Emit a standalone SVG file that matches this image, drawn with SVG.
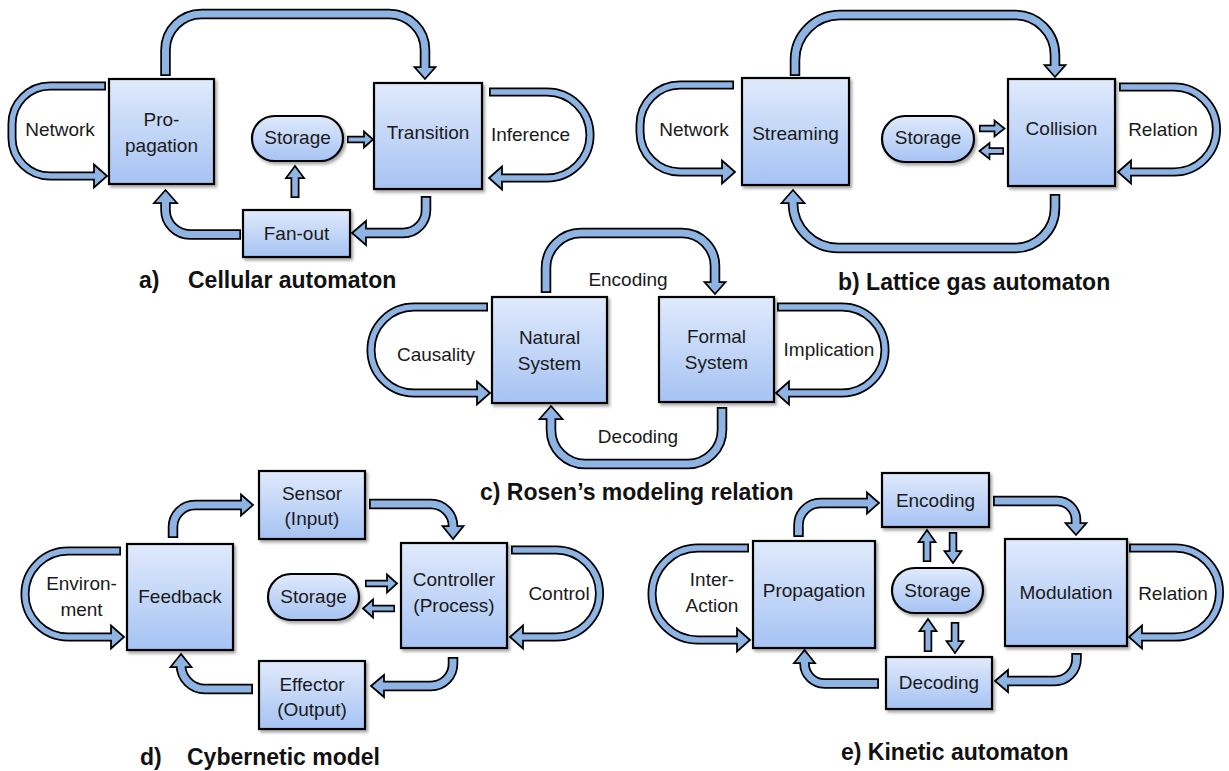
<svg xmlns="http://www.w3.org/2000/svg" width="1229" height="771" viewBox="0 0 1229 771">
<defs>
<linearGradient id="g" x1="0" y1="0" x2="0" y2="1">
<stop offset="0" stop-color="#e0eafc"/>
<stop offset="1" stop-color="#a6c3f3"/>
</linearGradient>
<filter id="sh" x="-10%" y="-10%" width="130%" height="130%">
<feDropShadow dx="2" dy="2.5" stdDeviation="1.5" flood-color="#000" flood-opacity="0.35"/>
</filter>
<style>
.bx{fill:url(#g);stroke:#000;stroke-width:2.2;filter:url(#sh)}
.t{font-family:"Liberation Sans",Arial,sans-serif;font-size:19px;fill:#1a1a1a;text-anchor:middle}
.cap{font-family:"Liberation Sans",Arial,sans-serif;font-size:23px;font-weight:bold;fill:#111}
.o1{fill:none;stroke:#000;stroke-width:10.5}
.i1{fill:none;stroke:#8db4e2;stroke-width:7}
.o2{fill:none;stroke:#000;stroke-width:9}
.i2{fill:none;stroke:#8db4e2;stroke-width:5.5}
.o3{fill:none;stroke:#000;stroke-width:7.5}
.i3{fill:none;stroke:#8db4e2;stroke-width:4}
.o4{fill:none;stroke:#000;stroke-width:8.5}
.i4{fill:none;stroke:#8db4e2;stroke-width:5}
.hd{fill:#8db4e2;stroke:#000;stroke-width:1.75;stroke-linejoin:miter}
</style>
</defs>
<rect width="1229" height="771" fill="#fff"/>

<g id="connectors">
<!-- panel a -->
<path class="o2" d="M 106 86 H 50 A 38 38 0 0 0 12 124 V 138 A 38 38 0 0 0 50 176 H 97"/>
<polygon class="hd" points="107,176 94,164.5 94,187.5"/>
<path class="i2" d="M 104.3 86 H 50 A 38 38 0 0 0 12 124 V 138 A 38 38 0 0 0 50 176 H 97"/>

<path class="o2" d="M 489 92 H 547 A 43 43 0 0 1 547 178 H 499"/>
<polygon class="hd" points="489,178 502,166.5 502,189.5"/>
<path class="i2" d="M 490.8 92 H 547 A 43 43 0 0 1 547 178 H 499"/>

<path class="o1" d="M 165.5 76 V 50 A 36 36 0 0 1 201.5 14 H 389 A 36 36 0 0 1 425 50 V 70"/>
<polygon class="hd" points="425,79 414.5,67 435.5,67"/>
<path class="i1" d="M 165.5 74.2 V 50 A 36 36 0 0 1 201.5 14 H 389 A 36 36 0 0 1 425 50 V 70"/>

<path class="o3" d="M 347 139.5 H 366"/>
<polygon class="hd" points="373,139.5 364,131.5 364,147.5"/>
<path class="i3" d="M 348.6 139.5 H 366"/>

<path class="o2" d="M 295 198 V 175"/>
<polygon class="hd" points="295,166 286,178 304,178"/>
<path class="i2" d="M 295 196.3 V 175"/>

<path class="o1" d="M 426 196 V 210 A 23 23 0 0 1 403 233 H 364"/>
<polygon class="hd" points="352,233 366,221 366,245"/>
<path class="i1" d="M 426 197.8 V 210 A 23 23 0 0 1 403 233 H 364"/>

<path class="o1" d="M 241 234.5 H 190 A 24.5 24.5 0 0 1 165.5 210 V 200"/>
<polygon class="hd" points="165.5,190 154,203 177,203"/>
<path class="i1" d="M 239.3 234.5 H 190 A 24.5 24.5 0 0 1 165.5 210 V 200"/>

<!-- panel b -->
<path class="o2" d="M 734 85 H 680 A 40 40 0 0 0 640 125 V 132 A 40 40 0 0 0 680 172 H 724"/>
<polygon class="hd" points="735,172 722,160.5 722,183.5"/>
<path class="i2" d="M 732.3 85 H 680 A 40 40 0 0 0 640 125 V 132 A 40 40 0 0 0 680 172 H 724"/>

<path class="o2" d="M 1119 87 H 1174 A 42.5 42.5 0 0 1 1174 172 H 1128"/>
<polygon class="hd" points="1118,172 1131,160.5 1131,183.5"/>
<path class="i2" d="M 1120.8 87 H 1174 A 42.5 42.5 0 0 1 1174 172 H 1128"/>

<path class="o1" d="M 795 76 V 60 A 45 45 0 0 1 840 15 H 1015 A 40 40 0 0 1 1055 55 V 68"/>
<polygon class="hd" points="1055,77 1044.5,65 1065.5,65"/>
<path class="i1" d="M 795 74.2 V 60 A 45 45 0 0 1 840 15 H 1015 A 40 40 0 0 1 1055 55 V 68"/>

<path class="o1" d="M 1055 194 V 208 A 40 40 0 0 1 1015 248 H 838 A 45 45 0 0 1 793 203 V 200"/>
<polygon class="hd" points="793,190 781.5,203 804.5,203"/>
<path class="i1" d="M 1055 195.8 V 208 A 40 40 0 0 1 1015 248 H 838 A 45 45 0 0 1 793 203 V 200"/>

<path class="o3" d="M 979 128.5 H 997"/>
<polygon class="hd" points="1004.5,128.5 994.5,120.5 994.5,136.5"/>
<path class="i3" d="M 980.6 128.5 H 997"/>

<path class="o3" d="M 1004 151 H 987"/>
<polygon class="hd" points="979.5,151 989.5,143 989.5,159"/>
<path class="i3" d="M 1002.4 151 H 987"/>

<!-- panel c -->
<path class="o2" d="M 488 307 H 414 A 43 43 0 0 0 371 350 A 43 43 0 0 0 414 393 H 480"/>
<polygon class="hd" points="490,393 477,381.5 477,404.5"/>
<path class="i2" d="M 486.3 307 H 414 A 43 43 0 0 0 371 350 A 43 43 0 0 0 414 393 H 480"/>

<path class="o2" d="M 777 307 H 842 A 43 43 0 0 1 842 393 H 786"/>
<polygon class="hd" points="776,393 789,381.5 789,404.5"/>
<path class="i2" d="M 778.8 307 H 842 A 43 43 0 0 1 842 393 H 786"/>

<path class="o1" d="M 546 293 V 268 A 35 35 0 0 1 581 233 H 682 A 33 33 0 0 1 715 266 V 285"/>
<polygon class="hd" points="715,294 704.5,282 725.5,282"/>
<path class="i1" d="M 546 291.2 V 268 A 35 35 0 0 1 581 233 H 682 A 33 33 0 0 1 715 266 V 285"/>

<path class="o1" d="M 722 407 V 430 A 34 34 0 0 1 688 464 H 585 A 34 34 0 0 1 551 430 V 416"/>
<polygon class="hd" points="551,406 539.5,419 562.5,419"/>
<path class="i1" d="M 722 408.8 V 430 A 34 34 0 0 1 688 464 H 585 A 34 34 0 0 1 551 430 V 416"/>

<!-- panel d -->
<path class="o2" d="M 121 551 H 68 A 43 43 0 0 0 25 594 A 43 43 0 0 0 68 637 H 114"/>
<polygon class="hd" points="124,637 111,625.5 111,648.5"/>
<path class="i2" d="M 119.3 551 H 68 A 43 43 0 0 0 25 594 A 43 43 0 0 0 68 637 H 114"/>

<path class="o2" d="M 511 550 H 556 A 43.5 43.5 0 0 1 556 637 H 520"/>
<polygon class="hd" points="510,637 523,625.5 523,648.5"/>
<path class="i2" d="M 512.8 550 H 556 A 43.5 43.5 0 0 1 556 637 H 520"/>

<path class="o1" d="M 173 538 V 527 A 22 22 0 0 1 195 505 H 244"/>
<polygon class="hd" points="253,505 241,494.5 241,515.5"/>
<path class="i1" d="M 173 536.2 V 527 A 22 22 0 0 1 195 505 H 244"/>

<path class="o1" d="M 369 504 H 431 A 22 22 0 0 1 453 526 V 529"/>
<polygon class="hd" points="453,539 442.5,526 463.5,526"/>
<path class="i1" d="M 370.8 504 H 431 A 22 22 0 0 1 453 526 V 529"/>

<path class="o1" d="M 453 657 V 664 A 22 22 0 0 1 431 686 H 381"/>
<polygon class="hd" points="371,686 384,675 384,697"/>
<path class="i1" d="M 453 658.8 V 664 A 22 22 0 0 1 431 686 H 381"/>

<path class="o1" d="M 253 689 H 205 A 24 24 0 0 1 181 665 V 664"/>
<polygon class="hd" points="181,654 170.5,667 191.5,667"/>
<path class="i1" d="M 251.2 689 H 205 A 24 24 0 0 1 181 665 V 664"/>

<path class="o3" d="M 365 583.5 H 389"/>
<polygon class="hd" points="397,583.5 387,574.5 387,592.5"/>
<path class="i3" d="M 366.6 583.5 H 389"/>

<path class="o3" d="M 395 608.5 H 371"/>
<polygon class="hd" points="363,608.5 373,599.5 373,617.5"/>
<path class="i3" d="M 393.4 608.5 H 371"/>

<!-- panel e -->
<path class="o2" d="M 749 548 H 698 A 46 46 0 0 0 652 594 A 46 46 0 0 0 698 640 H 740"/>
<polygon class="hd" points="750,640 737,628.5 737,651.5"/>
<path class="i2" d="M 747.3 548 H 698 A 46 46 0 0 0 652 594 A 46 46 0 0 0 698 640 H 740"/>

<path class="o2" d="M 1129 548 H 1175 A 44.5 44.5 0 0 1 1175 637 H 1139"/>
<polygon class="hd" points="1129,637 1142,625.5 1142,648.5"/>
<path class="i2" d="M 1130.8 548 H 1175 A 44.5 44.5 0 0 1 1175 637 H 1139"/>

<path class="o1" d="M 798.5 537 V 525 A 22 22 0 0 1 820.5 503 H 870"/>
<polygon class="hd" points="879,503 867,492.5 867,513.5"/>
<path class="i1" d="M 798.5 535.2 V 525 A 22 22 0 0 1 820.5 503 H 870"/>

<path class="o1" d="M 993 501 H 1057 A 19 19 0 0 1 1076 520 V 526"/>
<polygon class="hd" points="1076,535 1065.5,523 1086.5,523"/>
<path class="i1" d="M 994.8 501 H 1057 A 19 19 0 0 1 1076 520 V 526"/>

<path class="o1" d="M 1076.5 653 V 659 A 22 22 0 0 1 1054.5 681 H 1005"/>
<polygon class="hd" points="995,681 1008,670 1008,692"/>
<path class="i1" d="M 1076.5 654.8 V 659 A 22 22 0 0 1 1054.5 681 H 1005"/>

<path class="o1" d="M 879 683.5 H 824.5 A 20 20 0 0 1 804.5 663.5 V 660"/>
<polygon class="hd" points="804.5,650 794,663 815,663"/>
<path class="i1" d="M 877.2 683.5 H 824.5 A 20 20 0 0 1 804.5 663.5 V 660"/>

<path class="o4" d="M 927 562 V 540"/>
<polygon class="hd" points="927,530 918.5,542 935.5,542"/>
<path class="i4" d="M 927 560.3 V 540"/>

<path class="o4" d="M 953 532 V 553"/>
<polygon class="hd" points="953,563 944.5,551 961.5,551"/>
<path class="i4" d="M 953 533.7 V 553"/>

<path class="o4" d="M 928 652 V 629"/>
<polygon class="hd" points="928,619 919.5,631 936.5,631"/>
<path class="i4" d="M 928 650.3 V 629"/>

<path class="o4" d="M 955 622 V 643"/>
<polygon class="hd" points="955,653 946.5,641 963.5,641"/>
<path class="i4" d="M 955 623.7 V 643"/>
</g>

<!-- panel a nodes -->
<g id="a-propagation"><rect class="bx" x="109" y="79" width="105" height="105"/><text class="t" x="161.5" y="126">Pro-</text><text class="t" x="161.5" y="152">pagation</text></g>
<g id="a-transition"><rect class="bx" x="374" y="83" width="108" height="106"/><text class="t" x="428" y="139">Transition</text></g>
<g id="a-storage"><rect class="bx" x="252" y="116" width="91" height="45" rx="22.5"/><text class="t" x="297.5" y="144">Storage</text></g>
<g id="a-fanout"><rect class="bx" x="243" y="210" width="107" height="47"/><text class="t" x="296.5" y="240">Fan-out</text></g>
<g id="a-labels"><text class="t" x="60" y="136">Network</text><text class="t" x="530.5" y="141">Inference</text></g>
<g id="a-caption"><text class="cap" x="139" y="288">a)</text><text class="cap" x="188" y="288">Cellular automaton</text></g>

<!-- panel b nodes -->
<g id="b-streaming"><rect class="bx" x="742" y="78" width="107" height="107"/><text class="t" x="795.5" y="140">Streaming</text></g>
<g id="b-collision"><rect class="bx" x="1008" y="79" width="107" height="107"/><text class="t" x="1061.5" y="135">Collision</text></g>
<g id="b-storage"><rect class="bx" x="882" y="116" width="92" height="46" rx="23"/><text class="t" x="928" y="144">Storage</text></g>
<g id="b-labels"><text class="t" x="694" y="136">Network</text><text class="t" x="1163" y="136">Relation</text></g>
<g id="b-caption"><text class="cap" x="838" y="290">b) Lattice gas automaton</text></g>

<!-- panel c nodes -->
<g id="c-natural"><rect class="bx" x="492" y="297" width="115" height="106"/><text class="t" x="549.5" y="344">Natural</text><text class="t" x="549.5" y="370">System</text></g>
<g id="c-formal"><rect class="bx" x="659" y="297" width="115" height="105"/><text class="t" x="716.5" y="343">Formal</text><text class="t" x="716.5" y="369">System</text></g>
<g id="c-labels"><text class="t" x="436" y="361">Causality</text><text class="t" x="829" y="356">Implication</text><text class="t" x="628" y="286">Encoding</text><text class="t" x="638" y="443">Decoding</text></g>
<g id="c-caption"><text class="cap" x="480" y="500">c) Rosen’s modeling relation</text></g>

<!-- panel d nodes -->
<g id="d-sensor"><rect class="bx" x="259" y="471" width="106" height="68"/><text class="t" x="312" y="500">Sensor</text><text class="t" x="312" y="525">(Input)</text></g>
<g id="d-feedback"><rect class="bx" x="127" y="544" width="106" height="106"/><text class="t" x="180" y="603">Feedback</text></g>
<g id="d-controller"><rect class="bx" x="401" y="543" width="106" height="105"/><text class="t" x="454" y="586">Controller</text><text class="t" x="454" y="612">(Process)</text></g>
<g id="d-effector"><rect class="bx" x="259" y="661" width="106" height="68"/><text class="t" x="312" y="691">Effector</text><text class="t" x="312" y="716">(Output)</text></g>
<g id="d-storage"><rect class="bx" x="268" y="574" width="91" height="46" rx="23"/><text class="t" x="313.5" y="603">Storage</text></g>
<g id="d-labels"><text class="t" x="81.5" y="590">Environ-</text><text class="t" x="81.5" y="616">ment</text><text class="t" x="559" y="600">Control</text></g>
<g id="d-caption"><text class="cap" x="140" y="765">d)</text><text class="cap" x="187" y="765">Cybernetic model</text></g>

<!-- panel e nodes -->
<g id="e-encoding"><rect class="bx" x="882" y="473" width="107" height="54"/><text class="t" x="935.5" y="507">Encoding</text></g>
<g id="e-propagation"><rect class="bx" x="753" y="541" width="122" height="107"/><text class="t" x="814" y="597">Propagation</text></g>
<g id="e-modulation"><rect class="bx" x="1005" y="539" width="122" height="107"/><text class="t" x="1066" y="599">Modulation</text></g>
<g id="e-decoding"><rect class="bx" x="886" y="657" width="106" height="52"/><text class="t" x="939" y="689">Decoding</text></g>
<g id="e-storage"><rect class="bx" x="892" y="568" width="91" height="45" rx="22.5"/><text class="t" x="937.5" y="597">Storage</text></g>
<g id="e-labels"><text class="t" x="712" y="586">Inter-</text><text class="t" x="712" y="612">Action</text><text class="t" x="1173" y="600">Relation</text></g>
<g id="e-caption"><text class="cap" x="841" y="760">e) Kinetic automaton</text></g>
</svg>
